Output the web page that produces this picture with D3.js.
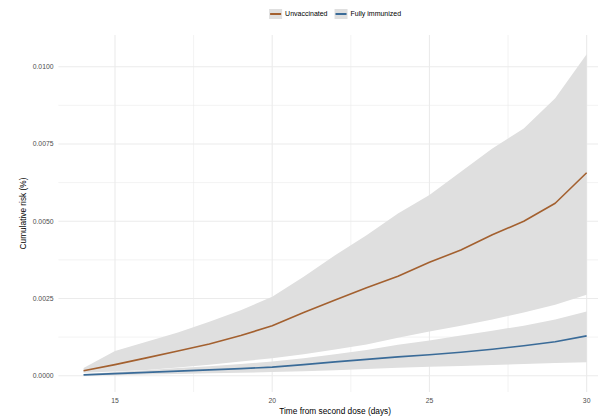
<!DOCTYPE html>
<html>
<head>
<meta charset="utf-8">
<script src="https://cdn.jsdelivr.net/npm/d3@7"></script>
<style>
  body { margin: 0; background: #fff; }
  svg { display: block; font-family: "Liberation Sans", Arial, sans-serif; }
  .grid line { stroke: #ebebeb; }
  .tick-label { fill: #4d4d4d; font-size: 6.8px; }
  .axis-title { fill: #000; font-size: 8.3px; }
  .legend-text { fill: #000; font-size: 7px; }
</style>
</head>
<body>
<div id="chart"></div>
<script>
// days since second dose
const days = [14, 15, 16, 17, 18, 19, 20, 21, 22, 23, 24, 25, 26, 27, 28, 29, 30]

// unvaccinated cumulative risk + ci
const unvaxRisk  = [0.00016, 0.00036, 0.00058, 0.00080, 0.00103, 0.00130, 0.00162, 0.00205, 0.00245, 0.00285, 0.00322, 0.00367, 0.00407, 0.00456, 0.00500, 0.00558, 0.00657]
const unvaxLower = [0.00010, 0.00014, 0.00019, 0.00027, 0.00036, 0.00046, 0.00057, 0.00070, 0.00085, 0.00101, 0.00123, 0.00143, 0.00162, 0.00182, 0.00205, 0.00230, 0.00262]
const unvaxUpper = [0.00025, 0.00080, 0.00110, 0.00140, 0.00175, 0.00212, 0.00256, 0.00320, 0.00390, 0.00455, 0.00525, 0.00585, 0.00660, 0.00735, 0.00800, 0.00898, 0.01040]

// fully immunized cumulative risk + ci
const immRisk  = [0.00003, 0.00007, 0.00011, 0.00015, 0.00019, 0.00023, 0.00028, 0.00036, 0.00045, 0.00053, 0.00061, 0.00068, 0.00076, 0.00086, 0.00097, 0.00110, 0.00129]
const immLower = [0.00000, 0.00002, 0.00004, 0.00006, 0.00008, 0.00010, 0.00012, 0.00015, 0.00018, 0.00022, 0.00026, 0.00029, 0.00032, 0.00035, 0.00038, 0.00041, 0.00044]
const immUpper = [0.00005, 0.00012, 0.00018, 0.00025, 0.00031, 0.00038, 0.00046, 0.00057, 0.00070, 0.00083, 0.00100, 0.00114, 0.00130, 0.00146, 0.00162, 0.00182, 0.00208]

const xTicks = [15, 20, 25, 30]
const xMinor = [17.5, 22.5, 27.5]
const yTicks = [0, 0.0025, 0.005, 0.0075, 0.01]
const yMinor = [0.00125, 0.00375, 0.00625, 0.00875]

const groups = [
  { name: 'Unvaccinated', color: '#a3602f', risk: unvaxRisk, lower: unvaxLower, upper: unvaxUpper },
  { name: 'Fully immunized', color: '#3a6b98', risk: immRisk, lower: immLower, upper: immUpper }
]

const width = 598, height = 418
const panel = { left: 58.4, right: 611.8, top: 35, bottom: 392 }

const svg = d3.select('#chart').append('svg')
    .attr('width', width)
    .attr('height', height)

const x = d3.scaleLinear().domain([13.2, 30.8]).range([panel.left, panel.right])
const y = d3.scaleLinear().domain([-0.000525, 0.011025]).range([panel.bottom, panel.top])

// grid
const grid = svg.append('g').attr('class', 'grid')
grid.selectAll('.ymin').data(yMinor).enter().append('line')
    .attr('x1', panel.left).attr('x2', panel.right)
    .attr('y1', d => y(d)).attr('y2', d => y(d))
    .attr('stroke-width', 0.6)
grid.selectAll('.xmin').data(xMinor).enter().append('line')
    .attr('y1', panel.top).attr('y2', panel.bottom)
    .attr('x1', d => x(d)).attr('x2', d => x(d))
    .attr('stroke-width', 0.6)
grid.selectAll('.ymaj').data(yTicks).enter().append('line')
    .attr('x1', panel.left).attr('x2', panel.right)
    .attr('y1', d => y(d)).attr('y2', d => y(d))
    .attr('stroke-width', 1.1)
grid.selectAll('.xmaj').data(xTicks).enter().append('line')
    .attr('y1', panel.top).attr('y2', panel.bottom)
    .attr('x1', d => x(d)).attr('x2', d => x(d))
    .attr('stroke-width', 1.1)

// ribbons
const area = d3.area()
    .x(d => x(d.day))
    .y0(d => y(d.lo))
    .y1(d => y(d.hi))

const line = d3.line()
    .x(d => x(d.day))
    .y(d => y(d.v))

groups.forEach(g => {
  const rows = days.map((day, i) => ({ day, lo: g.lower[i], hi: g.upper[i] }))
  svg.append('path')
      .attr('d', area(rows))
      .attr('fill', '#dfdfdf')
})

groups.forEach(g => {
  const rows = days.map((day, i) => ({ day, v: g.risk[i] }))
  svg.append('path')
      .attr('d', line(rows))
      .attr('fill', 'none')
      .attr('stroke', g.color)
      .attr('stroke-width', 1.6)
      .attr('stroke-linejoin', 'round')
})

// axes labels (ggplot style, no axis lines)
svg.selectAll('.ylab').data(yTicks).enter().append('text')
    .attr('class', 'tick-label')
    .attr('x', 53.5)
    .attr('y', d => y(d))
    .attr('dy', '0.35em')
    .attr('text-anchor', 'end')
    .text(d3.format('.4f'))

svg.selectAll('.xlab').data(xTicks).enter().append('text')
    .attr('class', 'tick-label')
    .attr('x', d => x(d))
    .attr('y', 401)
    .attr('dy', '0.35em')
    .attr('text-anchor', 'middle')
    .text(d => d)

const midX = (panel.left + panel.right) / 2
svg.append('text')
    .attr('class', 'axis-title')
    .attr('x', midX)
    .attr('y', 411)
    .attr('dy', '0.35em')
    .attr('text-anchor', 'middle')
    .text('Time from second dose (days)')

svg.append('text')
    .attr('class', 'axis-title')
    .attr('transform', `translate(23,${(panel.top + panel.bottom) / 2}) rotate(-90)`)
    .attr('dy', '0.35em')
    .attr('text-anchor', 'middle')
    .text('Cumulative risk (%)')

// legend on top
const legend = svg.append('g')
const keyW = 13, keyH = 10, legY = 14
let cx = 0
const items = groups.map(g => {
  const it = legend.append('g')
  it.append('rect')
      .attr('x', 0).attr('y', legY - keyH / 2)
      .attr('width', keyW).attr('height', keyH)
      .attr('fill', '#dfdfdf')
  it.append('line')
      .attr('x1', 1).attr('x2', keyW - 1)
      .attr('y1', legY).attr('y2', legY)
      .attr('stroke', g.color).attr('stroke-width', 2)
  const t = it.append('text')
      .attr('class', 'legend-text')
      .attr('x', keyW + 3).attr('y', legY)
      .attr('dy', '0.35em')
      .text(g.name)
  const w = keyW + 3 + t.node().getComputedTextLength()
  it.attr('transform', `translate(${cx},0)`)
  cx += w + 7
  return it
})
const total = cx - 7
legend.attr('transform', `translate(${midX - total / 2},0)`)
</script>
</body>
</html>
